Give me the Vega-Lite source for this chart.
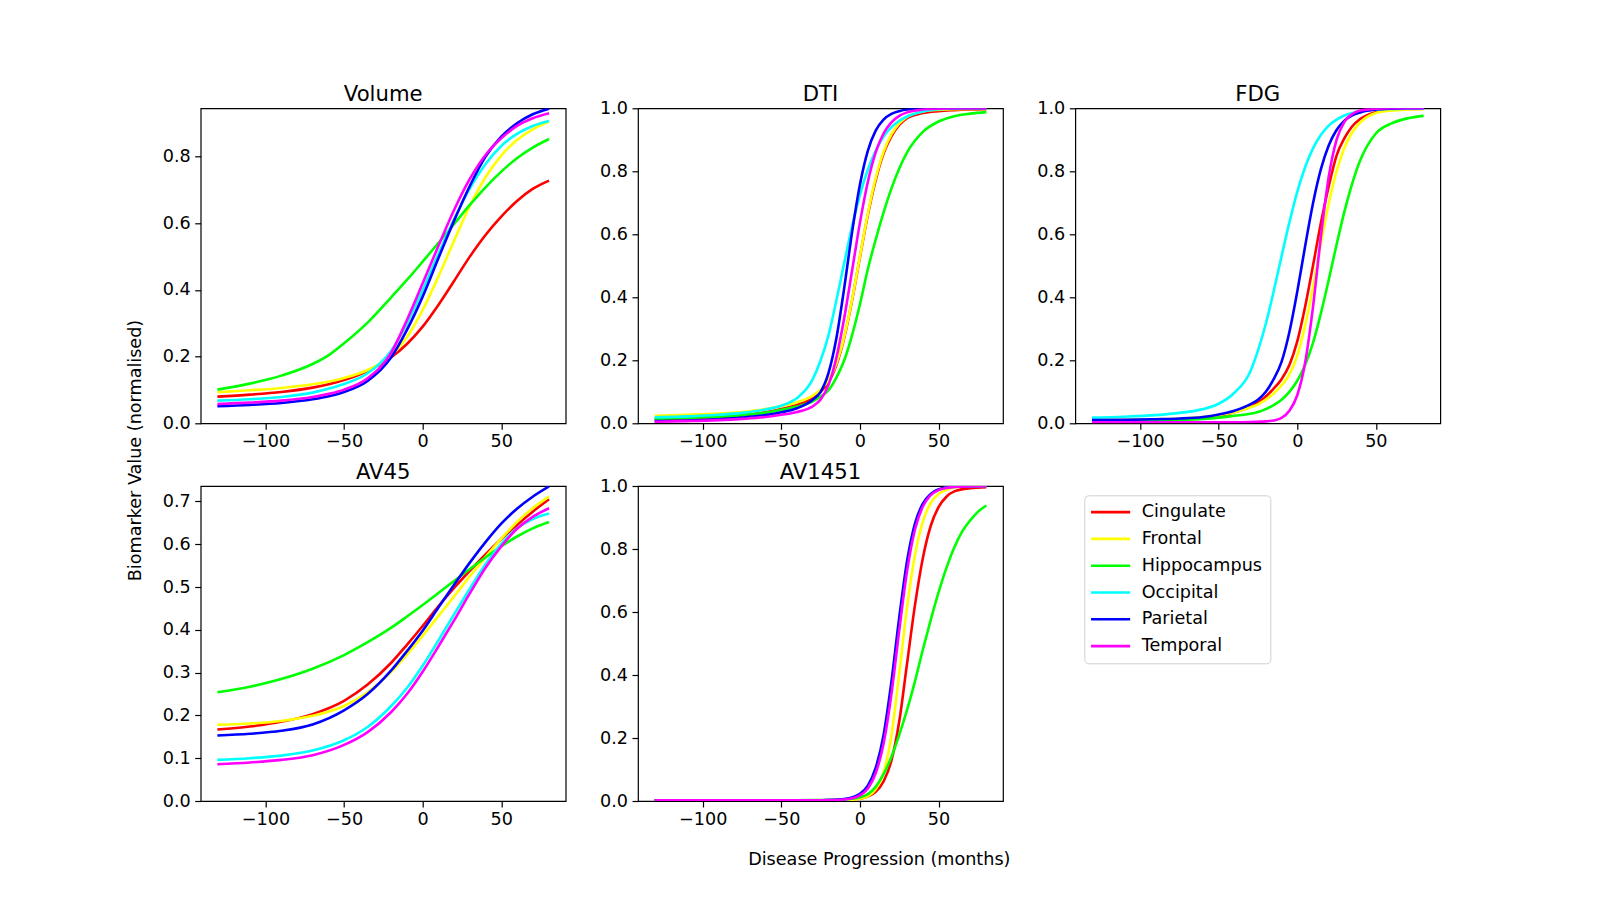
{
"$schema": "https://vega.github.io/schema/vega-lite/v6.json",
"autosize": {"type": "none"},
"padding": {"left": 200.7, "top": 108.3, "right": 1399.3, "bottom": 791.7},
"background": "white",
"datasets": {
"Volume": [
{"region":"Cingulate","x":-130.6,"y":0.080},{"region":"Cingulate","x":-110,"y":0.086},{"region":"Cingulate","x":-90,"y":0.094},{"region":"Cingulate","x":-70,"y":0.107},{"region":"Cingulate","x":-59,"y":0.118},{"region":"Cingulate","x":-50,"y":0.130},{"region":"Cingulate","x":-35,"y":0.157},{"region":"Cingulate","x":-20,"y":0.198},{"region":"Cingulate","x":-10,"y":0.238},{"region":"Cingulate","x":0,"y":0.290},{"region":"Cingulate","x":10,"y":0.355},{"region":"Cingulate","x":20,"y":0.427},{"region":"Cingulate","x":30,"y":0.500},{"region":"Cingulate","x":40,"y":0.565},{"region":"Cingulate","x":50,"y":0.620},{"region":"Cingulate","x":60,"y":0.667},{"region":"Cingulate","x":70,"y":0.703},{"region":"Cingulate","x":80.4,"y":0.728},
{"region":"Frontal","x":-130.6,"y":0.093},{"region":"Frontal","x":-110,"y":0.099},{"region":"Frontal","x":-90,"y":0.106},{"region":"Frontal","x":-70,"y":0.117},{"region":"Frontal","x":-59,"y":0.126},{"region":"Frontal","x":-50,"y":0.136},{"region":"Frontal","x":-35,"y":0.160},{"region":"Frontal","x":-20,"y":0.203},{"region":"Frontal","x":-10,"y":0.258},{"region":"Frontal","x":0,"y":0.340},{"region":"Frontal","x":10,"y":0.440},{"region":"Frontal","x":20,"y":0.548},{"region":"Frontal","x":30,"y":0.652},{"region":"Frontal","x":40,"y":0.738},{"region":"Frontal","x":50,"y":0.803},{"region":"Frontal","x":60,"y":0.850},{"region":"Frontal","x":70,"y":0.882},{"region":"Frontal","x":80.4,"y":0.905},
{"region":"Hippocampus","x":-130.6,"y":0.101},{"region":"Hippocampus","x":-110,"y":0.119},{"region":"Hippocampus","x":-90,"y":0.143},{"region":"Hippocampus","x":-70,"y":0.178},{"region":"Hippocampus","x":-59,"y":0.207},{"region":"Hippocampus","x":-50,"y":0.240},{"region":"Hippocampus","x":-35,"y":0.302},{"region":"Hippocampus","x":-20,"y":0.378},{"region":"Hippocampus","x":-10,"y":0.430},{"region":"Hippocampus","x":0,"y":0.485},{"region":"Hippocampus","x":10,"y":0.541},{"region":"Hippocampus","x":20,"y":0.598},{"region":"Hippocampus","x":30,"y":0.655},{"region":"Hippocampus","x":40,"y":0.708},{"region":"Hippocampus","x":50,"y":0.755},{"region":"Hippocampus","x":60,"y":0.795},{"region":"Hippocampus","x":70,"y":0.827},{"region":"Hippocampus","x":80.4,"y":0.853},
{"region":"Occipital","x":-130.6,"y":0.068},{"region":"Occipital","x":-110,"y":0.072},{"region":"Occipital","x":-90,"y":0.079},{"region":"Occipital","x":-70,"y":0.092},{"region":"Occipital","x":-59,"y":0.105},{"region":"Occipital","x":-50,"y":0.118},{"region":"Occipital","x":-35,"y":0.150},{"region":"Occipital","x":-20,"y":0.218},{"region":"Occipital","x":-10,"y":0.300},{"region":"Occipital","x":0,"y":0.400},{"region":"Occipital","x":10,"y":0.508},{"region":"Occipital","x":20,"y":0.612},{"region":"Occipital","x":30,"y":0.705},{"region":"Occipital","x":40,"y":0.778},{"region":"Occipital","x":50,"y":0.832},{"region":"Occipital","x":60,"y":0.868},{"region":"Occipital","x":70,"y":0.892},{"region":"Occipital","x":80.4,"y":0.907},
{"region":"Parietal","x":-130.6,"y":0.051},{"region":"Parietal","x":-110,"y":0.055},{"region":"Parietal","x":-90,"y":0.061},{"region":"Parietal","x":-70,"y":0.072},{"region":"Parietal","x":-59,"y":0.082},{"region":"Parietal","x":-50,"y":0.094},{"region":"Parietal","x":-35,"y":0.127},{"region":"Parietal","x":-20,"y":0.198},{"region":"Parietal","x":-10,"y":0.280},{"region":"Parietal","x":0,"y":0.380},{"region":"Parietal","x":10,"y":0.495},{"region":"Parietal","x":20,"y":0.608},{"region":"Parietal","x":30,"y":0.712},{"region":"Parietal","x":40,"y":0.800},{"region":"Parietal","x":50,"y":0.860},{"region":"Parietal","x":60,"y":0.900},{"region":"Parietal","x":70,"y":0.927},{"region":"Parietal","x":80.4,"y":0.944},
{"region":"Temporal","x":-130.6,"y":0.058},{"region":"Temporal","x":-110,"y":0.062},{"region":"Temporal","x":-90,"y":0.068},{"region":"Temporal","x":-70,"y":0.079},{"region":"Temporal","x":-59,"y":0.089},{"region":"Temporal","x":-50,"y":0.101},{"region":"Temporal","x":-35,"y":0.135},{"region":"Temporal","x":-20,"y":0.212},{"region":"Temporal","x":-10,"y":0.310},{"region":"Temporal","x":0,"y":0.420},{"region":"Temporal","x":10,"y":0.532},{"region":"Temporal","x":20,"y":0.640},{"region":"Temporal","x":30,"y":0.733},{"region":"Temporal","x":40,"y":0.805},{"region":"Temporal","x":50,"y":0.855},{"region":"Temporal","x":60,"y":0.892},{"region":"Temporal","x":70,"y":0.915},{"region":"Temporal","x":80.4,"y":0.930}
],
"DTI": [
{"region":"Cingulate","x":-130.6,"y":0.013},{"region":"Cingulate","x":-110,"y":0.016},{"region":"Cingulate","x":-90,"y":0.020},{"region":"Cingulate","x":-75,"y":0.025},{"region":"Cingulate","x":-60,"y":0.035},{"region":"Cingulate","x":-50,"y":0.045},{"region":"Cingulate","x":-40,"y":0.058},{"region":"Cingulate","x":-30,"y":0.080},{"region":"Cingulate","x":-25,"y":0.100},{"region":"Cingulate","x":-20,"y":0.130},{"region":"Cingulate","x":-15,"y":0.185},{"region":"Cingulate","x":-10,"y":0.272},{"region":"Cingulate","x":-5,"y":0.391},{"region":"Cingulate","x":0,"y":0.528},{"region":"Cingulate","x":5,"y":0.661},{"region":"Cingulate","x":10,"y":0.772},{"region":"Cingulate","x":15,"y":0.856},{"region":"Cingulate","x":20,"y":0.911},{"region":"Cingulate","x":25,"y":0.947},{"region":"Cingulate","x":30,"y":0.969},{"region":"Cingulate","x":40,"y":0.985},{"region":"Cingulate","x":50,"y":0.991},{"region":"Cingulate","x":60,"y":0.994},{"region":"Cingulate","x":70,"y":0.996},{"region":"Cingulate","x":80.4,"y":0.997},
{"region":"Frontal","x":-130.6,"y":0.024},{"region":"Frontal","x":-110,"y":0.027},{"region":"Frontal","x":-90,"y":0.031},{"region":"Frontal","x":-75,"y":0.036},{"region":"Frontal","x":-60,"y":0.045},{"region":"Frontal","x":-50,"y":0.055},{"region":"Frontal","x":-40,"y":0.067},{"region":"Frontal","x":-30,"y":0.088},{"region":"Frontal","x":-25,"y":0.107},{"region":"Frontal","x":-20,"y":0.137},{"region":"Frontal","x":-15,"y":0.190},{"region":"Frontal","x":-10,"y":0.275},{"region":"Frontal","x":-5,"y":0.393},{"region":"Frontal","x":0,"y":0.530},{"region":"Frontal","x":5,"y":0.665},{"region":"Frontal","x":10,"y":0.778},{"region":"Frontal","x":15,"y":0.862},{"region":"Frontal","x":20,"y":0.917},{"region":"Frontal","x":25,"y":0.952},{"region":"Frontal","x":30,"y":0.973},{"region":"Frontal","x":40,"y":0.990},{"region":"Frontal","x":50,"y":0.995},{"region":"Frontal","x":60,"y":0.997},{"region":"Frontal","x":70,"y":0.998},{"region":"Frontal","x":80.4,"y":0.998},
{"region":"Hippocampus","x":-130.6,"y":0.014},{"region":"Hippocampus","x":-110,"y":0.017},{"region":"Hippocampus","x":-90,"y":0.021},{"region":"Hippocampus","x":-75,"y":0.026},{"region":"Hippocampus","x":-60,"y":0.034},{"region":"Hippocampus","x":-50,"y":0.043},{"region":"Hippocampus","x":-40,"y":0.053},{"region":"Hippocampus","x":-30,"y":0.070},{"region":"Hippocampus","x":-25,"y":0.085},{"region":"Hippocampus","x":-20,"y":0.105},{"region":"Hippocampus","x":-15,"y":0.145},{"region":"Hippocampus","x":-10,"y":0.200},{"region":"Hippocampus","x":-5,"y":0.280},{"region":"Hippocampus","x":0,"y":0.378},{"region":"Hippocampus","x":5,"y":0.489},{"region":"Hippocampus","x":10,"y":0.583},{"region":"Hippocampus","x":15,"y":0.669},{"region":"Hippocampus","x":20,"y":0.745},{"region":"Hippocampus","x":25,"y":0.809},{"region":"Hippocampus","x":30,"y":0.860},{"region":"Hippocampus","x":40,"y":0.925},{"region":"Hippocampus","x":50,"y":0.958},{"region":"Hippocampus","x":60,"y":0.975},{"region":"Hippocampus","x":70,"y":0.983},{"region":"Hippocampus","x":80.4,"y":0.988},
{"region":"Occipital","x":-130.6,"y":0.019},{"region":"Occipital","x":-110,"y":0.022},{"region":"Occipital","x":-90,"y":0.027},{"region":"Occipital","x":-75,"y":0.033},{"region":"Occipital","x":-60,"y":0.044},{"region":"Occipital","x":-50,"y":0.056},{"region":"Occipital","x":-40,"y":0.080},{"region":"Occipital","x":-30,"y":0.140},{"region":"Occipital","x":-25,"y":0.200},{"region":"Occipital","x":-20,"y":0.280},{"region":"Occipital","x":-15,"y":0.390},{"region":"Occipital","x":-10,"y":0.510},{"region":"Occipital","x":-5,"y":0.625},{"region":"Occipital","x":0,"y":0.725},{"region":"Occipital","x":5,"y":0.805},{"region":"Occipital","x":10,"y":0.865},{"region":"Occipital","x":15,"y":0.910},{"region":"Occipital","x":20,"y":0.940},{"region":"Occipital","x":25,"y":0.960},{"region":"Occipital","x":30,"y":0.974},{"region":"Occipital","x":40,"y":0.990},{"region":"Occipital","x":50,"y":0.997},{"region":"Occipital","x":60,"y":0.999},{"region":"Occipital","x":70,"y":1.0},{"region":"Occipital","x":80.4,"y":1.0},
{"region":"Parietal","x":-130.6,"y":0.007},{"region":"Parietal","x":-110,"y":0.009},{"region":"Parietal","x":-90,"y":0.013},{"region":"Parietal","x":-75,"y":0.018},{"region":"Parietal","x":-60,"y":0.026},{"region":"Parietal","x":-50,"y":0.035},{"region":"Parietal","x":-40,"y":0.048},{"region":"Parietal","x":-30,"y":0.075},{"region":"Parietal","x":-25,"y":0.100},{"region":"Parietal","x":-20,"y":0.160},{"region":"Parietal","x":-15,"y":0.270},{"region":"Parietal","x":-10,"y":0.430},{"region":"Parietal","x":-5,"y":0.607},{"region":"Parietal","x":0,"y":0.758},{"region":"Parietal","x":5,"y":0.865},{"region":"Parietal","x":10,"y":0.929},{"region":"Parietal","x":15,"y":0.964},{"region":"Parietal","x":20,"y":0.982},{"region":"Parietal","x":25,"y":0.991},{"region":"Parietal","x":30,"y":0.996},{"region":"Parietal","x":40,"y":0.999},{"region":"Parietal","x":50,"y":1.0},{"region":"Parietal","x":60,"y":1.0},{"region":"Parietal","x":70,"y":1.0},{"region":"Parietal","x":80.4,"y":1.0},
{"region":"Temporal","x":-130.6,"y":0.005},{"region":"Temporal","x":-110,"y":0.007},{"region":"Temporal","x":-90,"y":0.010},{"region":"Temporal","x":-75,"y":0.014},{"region":"Temporal","x":-60,"y":0.020},{"region":"Temporal","x":-50,"y":0.027},{"region":"Temporal","x":-40,"y":0.036},{"region":"Temporal","x":-30,"y":0.054},{"region":"Temporal","x":-25,"y":0.076},{"region":"Temporal","x":-20,"y":0.122},{"region":"Temporal","x":-15,"y":0.208},{"region":"Temporal","x":-10,"y":0.334},{"region":"Temporal","x":-5,"y":0.485},{"region":"Temporal","x":0,"y":0.637},{"region":"Temporal","x":5,"y":0.766},{"region":"Temporal","x":10,"y":0.860},{"region":"Temporal","x":15,"y":0.920},{"region":"Temporal","x":20,"y":0.955},{"region":"Temporal","x":25,"y":0.976},{"region":"Temporal","x":30,"y":0.987},{"region":"Temporal","x":40,"y":0.996},{"region":"Temporal","x":50,"y":0.999},{"region":"Temporal","x":60,"y":1.0},{"region":"Temporal","x":70,"y":1.0},{"region":"Temporal","x":80.4,"y":1.0}
],
"FDG": [
{"region":"Cingulate","x":-130.6,"y":0.008},{"region":"Cingulate","x":-110,"y":0.009},{"region":"Cingulate","x":-90,"y":0.011},{"region":"Cingulate","x":-75,"y":0.013},{"region":"Cingulate","x":-60,"y":0.018},{"region":"Cingulate","x":-50,"y":0.024},{"region":"Cingulate","x":-40,"y":0.035},{"region":"Cingulate","x":-30,"y":0.052},{"region":"Cingulate","x":-25,"y":0.066},{"region":"Cingulate","x":-20,"y":0.085},{"region":"Cingulate","x":-15,"y":0.110},{"region":"Cingulate","x":-10,"y":0.140},{"region":"Cingulate","x":-5,"y":0.185},{"region":"Cingulate","x":0,"y":0.260},{"region":"Cingulate","x":5,"y":0.370},{"region":"Cingulate","x":10,"y":0.500},{"region":"Cingulate","x":15,"y":0.635},{"region":"Cingulate","x":20,"y":0.752},{"region":"Cingulate","x":25,"y":0.850},{"region":"Cingulate","x":30,"y":0.905},{"region":"Cingulate","x":35,"y":0.943},{"region":"Cingulate","x":40,"y":0.966},{"region":"Cingulate","x":50,"y":0.988},{"region":"Cingulate","x":60,"y":0.996},{"region":"Cingulate","x":70,"y":0.998},{"region":"Cingulate","x":80.4,"y":0.999},
{"region":"Frontal","x":-130.6,"y":0.010},{"region":"Frontal","x":-110,"y":0.011},{"region":"Frontal","x":-90,"y":0.013},{"region":"Frontal","x":-75,"y":0.015},{"region":"Frontal","x":-60,"y":0.020},{"region":"Frontal","x":-50,"y":0.026},{"region":"Frontal","x":-40,"y":0.035},{"region":"Frontal","x":-30,"y":0.050},{"region":"Frontal","x":-25,"y":0.060},{"region":"Frontal","x":-20,"y":0.075},{"region":"Frontal","x":-15,"y":0.095},{"region":"Frontal","x":-10,"y":0.120},{"region":"Frontal","x":-5,"y":0.155},{"region":"Frontal","x":0,"y":0.215},{"region":"Frontal","x":5,"y":0.310},{"region":"Frontal","x":10,"y":0.432},{"region":"Frontal","x":15,"y":0.569},{"region":"Frontal","x":20,"y":0.697},{"region":"Frontal","x":25,"y":0.800},{"region":"Frontal","x":30,"y":0.875},{"region":"Frontal","x":35,"y":0.924},{"region":"Frontal","x":40,"y":0.955},{"region":"Frontal","x":50,"y":0.985},{"region":"Frontal","x":60,"y":0.993},{"region":"Frontal","x":70,"y":0.996},{"region":"Frontal","x":80.4,"y":0.997},
{"region":"Hippocampus","x":-130.6,"y":0.007},{"region":"Hippocampus","x":-110,"y":0.008},{"region":"Hippocampus","x":-90,"y":0.009},{"region":"Hippocampus","x":-75,"y":0.011},{"region":"Hippocampus","x":-60,"y":0.014},{"region":"Hippocampus","x":-50,"y":0.018},{"region":"Hippocampus","x":-40,"y":0.024},{"region":"Hippocampus","x":-30,"y":0.030},{"region":"Hippocampus","x":-25,"y":0.036},{"region":"Hippocampus","x":-20,"y":0.045},{"region":"Hippocampus","x":-15,"y":0.058},{"region":"Hippocampus","x":-10,"y":0.075},{"region":"Hippocampus","x":-5,"y":0.100},{"region":"Hippocampus","x":0,"y":0.135},{"region":"Hippocampus","x":5,"y":0.185},{"region":"Hippocampus","x":10,"y":0.255},{"region":"Hippocampus","x":15,"y":0.348},{"region":"Hippocampus","x":20,"y":0.455},{"region":"Hippocampus","x":25,"y":0.567},{"region":"Hippocampus","x":30,"y":0.672},{"region":"Hippocampus","x":35,"y":0.762},{"region":"Hippocampus","x":40,"y":0.834},{"region":"Hippocampus","x":50,"y":0.920},{"region":"Hippocampus","x":60,"y":0.952},{"region":"Hippocampus","x":70,"y":0.968},{"region":"Hippocampus","x":80.4,"y":0.976},
{"region":"Occipital","x":-130.6,"y":0.018},{"region":"Occipital","x":-110,"y":0.021},{"region":"Occipital","x":-90,"y":0.026},{"region":"Occipital","x":-75,"y":0.033},{"region":"Occipital","x":-60,"y":0.045},{"region":"Occipital","x":-50,"y":0.062},{"region":"Occipital","x":-40,"y":0.097},{"region":"Occipital","x":-30,"y":0.163},{"region":"Occipital","x":-25,"y":0.231},{"region":"Occipital","x":-20,"y":0.316},{"region":"Occipital","x":-15,"y":0.419},{"region":"Occipital","x":-10,"y":0.530},{"region":"Occipital","x":-5,"y":0.638},{"region":"Occipital","x":0,"y":0.735},{"region":"Occipital","x":5,"y":0.813},{"region":"Occipital","x":10,"y":0.873},{"region":"Occipital","x":15,"y":0.915},{"region":"Occipital","x":20,"y":0.945},{"region":"Occipital","x":25,"y":0.964},{"region":"Occipital","x":30,"y":0.977},{"region":"Occipital","x":35,"y":0.985},{"region":"Occipital","x":40,"y":0.990},{"region":"Occipital","x":50,"y":0.996},{"region":"Occipital","x":60,"y":0.998},{"region":"Occipital","x":70,"y":0.999},{"region":"Occipital","x":80.4,"y":0.999},
{"region":"Parietal","x":-130.6,"y":0.010},{"region":"Parietal","x":-110,"y":0.011},{"region":"Parietal","x":-90,"y":0.013},{"region":"Parietal","x":-75,"y":0.015},{"region":"Parietal","x":-60,"y":0.020},{"region":"Parietal","x":-50,"y":0.028},{"region":"Parietal","x":-40,"y":0.040},{"region":"Parietal","x":-30,"y":0.060},{"region":"Parietal","x":-25,"y":0.075},{"region":"Parietal","x":-20,"y":0.100},{"region":"Parietal","x":-15,"y":0.140},{"region":"Parietal","x":-10,"y":0.195},{"region":"Parietal","x":-5,"y":0.290},{"region":"Parietal","x":0,"y":0.418},{"region":"Parietal","x":5,"y":0.562},{"region":"Parietal","x":10,"y":0.698},{"region":"Parietal","x":15,"y":0.806},{"region":"Parietal","x":20,"y":0.882},{"region":"Parietal","x":25,"y":0.931},{"region":"Parietal","x":30,"y":0.961},{"region":"Parietal","x":35,"y":0.978},{"region":"Parietal","x":40,"y":0.987},{"region":"Parietal","x":50,"y":0.996},{"region":"Parietal","x":60,"y":0.999},{"region":"Parietal","x":70,"y":1.0},{"region":"Parietal","x":80.4,"y":1.0},
{"region":"Temporal","x":-130.6,"y":0.003},{"region":"Temporal","x":-110,"y":0.003},{"region":"Temporal","x":-90,"y":0.003},{"region":"Temporal","x":-75,"y":0.003},{"region":"Temporal","x":-60,"y":0.003},{"region":"Temporal","x":-50,"y":0.003},{"region":"Temporal","x":-40,"y":0.003},{"region":"Temporal","x":-30,"y":0.004},{"region":"Temporal","x":-25,"y":0.005},{"region":"Temporal","x":-20,"y":0.006},{"region":"Temporal","x":-15,"y":0.009},{"region":"Temporal","x":-10,"y":0.017},{"region":"Temporal","x":-5,"y":0.040},{"region":"Temporal","x":0,"y":0.089},{"region":"Temporal","x":5,"y":0.192},{"region":"Temporal","x":10,"y":0.369},{"region":"Temporal","x":15,"y":0.591},{"region":"Temporal","x":20,"y":0.782},{"region":"Temporal","x":25,"y":0.900},{"region":"Temporal","x":30,"y":0.957},{"region":"Temporal","x":35,"y":0.982},{"region":"Temporal","x":40,"y":0.993},{"region":"Temporal","x":50,"y":0.999},{"region":"Temporal","x":60,"y":1.0},{"region":"Temporal","x":70,"y":1.0},{"region":"Temporal","x":80.4,"y":1.0}
],
"AV45": [
{"region":"Cingulate","x":-130.6,"y":0.167},{"region":"Cingulate","x":-110,"y":0.174},{"region":"Cingulate","x":-90,"y":0.185},{"region":"Cingulate","x":-70,"y":0.203},{"region":"Cingulate","x":-50,"y":0.234},{"region":"Cingulate","x":-35,"y":0.272},{"region":"Cingulate","x":-20,"y":0.323},{"region":"Cingulate","x":-10,"y":0.365},{"region":"Cingulate","x":0,"y":0.409},{"region":"Cingulate","x":10,"y":0.455},{"region":"Cingulate","x":20,"y":0.498},{"region":"Cingulate","x":30,"y":0.538},{"region":"Cingulate","x":40,"y":0.576},{"region":"Cingulate","x":50,"y":0.612},{"region":"Cingulate","x":60,"y":0.645},{"region":"Cingulate","x":70,"y":0.676},{"region":"Cingulate","x":80.4,"y":0.705},
{"region":"Frontal","x":-130.6,"y":0.178},{"region":"Frontal","x":-110,"y":0.181},{"region":"Frontal","x":-90,"y":0.187},{"region":"Frontal","x":-70,"y":0.199},{"region":"Frontal","x":-50,"y":0.222},{"region":"Frontal","x":-35,"y":0.254},{"region":"Frontal","x":-20,"y":0.302},{"region":"Frontal","x":-10,"y":0.342},{"region":"Frontal","x":0,"y":0.386},{"region":"Frontal","x":10,"y":0.432},{"region":"Frontal","x":20,"y":0.478},{"region":"Frontal","x":30,"y":0.525},{"region":"Frontal","x":40,"y":0.570},{"region":"Frontal","x":50,"y":0.613},{"region":"Frontal","x":60,"y":0.652},{"region":"Frontal","x":70,"y":0.684},{"region":"Frontal","x":80.4,"y":0.711},
{"region":"Hippocampus","x":-130.6,"y":0.254},{"region":"Hippocampus","x":-110,"y":0.267},{"region":"Hippocampus","x":-90,"y":0.285},{"region":"Hippocampus","x":-70,"y":0.309},{"region":"Hippocampus","x":-50,"y":0.341},{"region":"Hippocampus","x":-35,"y":0.371},{"region":"Hippocampus","x":-20,"y":0.405},{"region":"Hippocampus","x":-10,"y":0.431},{"region":"Hippocampus","x":0,"y":0.458},{"region":"Hippocampus","x":10,"y":0.486},{"region":"Hippocampus","x":20,"y":0.514},{"region":"Hippocampus","x":30,"y":0.542},{"region":"Hippocampus","x":40,"y":0.569},{"region":"Hippocampus","x":50,"y":0.595},{"region":"Hippocampus","x":60,"y":0.618},{"region":"Hippocampus","x":70,"y":0.637},{"region":"Hippocampus","x":80.4,"y":0.652},
{"region":"Occipital","x":-130.6,"y":0.096},{"region":"Occipital","x":-110,"y":0.100},{"region":"Occipital","x":-90,"y":0.106},{"region":"Occipital","x":-70,"y":0.118},{"region":"Occipital","x":-50,"y":0.142},{"region":"Occipital","x":-35,"y":0.173},{"region":"Occipital","x":-20,"y":0.222},{"region":"Occipital","x":-10,"y":0.264},{"region":"Occipital","x":0,"y":0.316},{"region":"Occipital","x":10,"y":0.375},{"region":"Occipital","x":20,"y":0.436},{"region":"Occipital","x":30,"y":0.496},{"region":"Occipital","x":40,"y":0.553},{"region":"Occipital","x":50,"y":0.601},{"region":"Occipital","x":60,"y":0.637},{"region":"Occipital","x":70,"y":0.659},{"region":"Occipital","x":80.4,"y":0.672},
{"region":"Parietal","x":-130.6,"y":0.153},{"region":"Parietal","x":-110,"y":0.157},{"region":"Parietal","x":-90,"y":0.164},{"region":"Parietal","x":-70,"y":0.179},{"region":"Parietal","x":-50,"y":0.212},{"region":"Parietal","x":-35,"y":0.250},{"region":"Parietal","x":-20,"y":0.305},{"region":"Parietal","x":-10,"y":0.350},{"region":"Parietal","x":0,"y":0.398},{"region":"Parietal","x":10,"y":0.452},{"region":"Parietal","x":20,"y":0.505},{"region":"Parietal","x":30,"y":0.557},{"region":"Parietal","x":40,"y":0.605},{"region":"Parietal","x":50,"y":0.648},{"region":"Parietal","x":60,"y":0.683},{"region":"Parietal","x":70,"y":0.711},{"region":"Parietal","x":80.4,"y":0.735},
{"region":"Temporal","x":-130.6,"y":0.086},{"region":"Temporal","x":-110,"y":0.090},{"region":"Temporal","x":-90,"y":0.096},{"region":"Temporal","x":-70,"y":0.107},{"region":"Temporal","x":-50,"y":0.131},{"region":"Temporal","x":-35,"y":0.161},{"region":"Temporal","x":-20,"y":0.208},{"region":"Temporal","x":-10,"y":0.250},{"region":"Temporal","x":0,"y":0.302},{"region":"Temporal","x":10,"y":0.361},{"region":"Temporal","x":20,"y":0.422},{"region":"Temporal","x":30,"y":0.485},{"region":"Temporal","x":40,"y":0.545},{"region":"Temporal","x":50,"y":0.595},{"region":"Temporal","x":60,"y":0.636},{"region":"Temporal","x":70,"y":0.664},{"region":"Temporal","x":80.4,"y":0.684}
],
"AV1451": [
{"region":"Cingulate","x":-130.6,"y":0.002},{"region":"Cingulate","x":-100,"y":0.002},{"region":"Cingulate","x":-75,"y":0.002},{"region":"Cingulate","x":-50,"y":0.002},{"region":"Cingulate","x":-30,"y":0.002},{"region":"Cingulate","x":-20,"y":0.003},{"region":"Cingulate","x":-10,"y":0.004},{"region":"Cingulate","x":-5,"y":0.005},{"region":"Cingulate","x":0,"y":0.007},{"region":"Cingulate","x":5,"y":0.014},{"region":"Cingulate","x":10,"y":0.029},{"region":"Cingulate","x":15,"y":0.062},{"region":"Cingulate","x":20,"y":0.128},{"region":"Cingulate","x":25,"y":0.253},{"region":"Cingulate","x":30,"y":0.438},{"region":"Cingulate","x":35,"y":0.622},{"region":"Cingulate","x":40,"y":0.771},{"region":"Cingulate","x":45,"y":0.873},{"region":"Cingulate","x":50,"y":0.933},{"region":"Cingulate","x":55,"y":0.966},{"region":"Cingulate","x":60,"y":0.983},{"region":"Cingulate","x":70,"y":0.993},{"region":"Cingulate","x":80.4,"y":0.996},
{"region":"Frontal","x":-130.6,"y":0.002},{"region":"Frontal","x":-100,"y":0.002},{"region":"Frontal","x":-75,"y":0.002},{"region":"Frontal","x":-50,"y":0.002},{"region":"Frontal","x":-30,"y":0.002},{"region":"Frontal","x":-20,"y":0.002},{"region":"Frontal","x":-10,"y":0.003},{"region":"Frontal","x":-5,"y":0.004},{"region":"Frontal","x":0,"y":0.007},{"region":"Frontal","x":5,"y":0.015},{"region":"Frontal","x":10,"y":0.037},{"region":"Frontal","x":15,"y":0.090},{"region":"Frontal","x":20,"y":0.206},{"region":"Frontal","x":25,"y":0.405},{"region":"Frontal","x":30,"y":0.617},{"region":"Frontal","x":35,"y":0.781},{"region":"Frontal","x":40,"y":0.887},{"region":"Frontal","x":45,"y":0.946},{"region":"Frontal","x":50,"y":0.975},{"region":"Frontal","x":55,"y":0.988},{"region":"Frontal","x":60,"y":0.995},{"region":"Frontal","x":70,"y":0.999},{"region":"Frontal","x":80.4,"y":1.0},
{"region":"Hippocampus","x":-130.6,"y":0.002},{"region":"Hippocampus","x":-100,"y":0.002},{"region":"Hippocampus","x":-75,"y":0.002},{"region":"Hippocampus","x":-50,"y":0.002},{"region":"Hippocampus","x":-30,"y":0.003},{"region":"Hippocampus","x":-20,"y":0.003},{"region":"Hippocampus","x":-10,"y":0.004},{"region":"Hippocampus","x":-5,"y":0.007},{"region":"Hippocampus","x":0,"y":0.012},{"region":"Hippocampus","x":5,"y":0.022},{"region":"Hippocampus","x":10,"y":0.045},{"region":"Hippocampus","x":15,"y":0.085},{"region":"Hippocampus","x":20,"y":0.140},{"region":"Hippocampus","x":25,"y":0.210},{"region":"Hippocampus","x":30,"y":0.290},{"region":"Hippocampus","x":35,"y":0.380},{"region":"Hippocampus","x":40,"y":0.480},{"region":"Hippocampus","x":45,"y":0.574},{"region":"Hippocampus","x":50,"y":0.662},{"region":"Hippocampus","x":55,"y":0.740},{"region":"Hippocampus","x":60,"y":0.805},{"region":"Hippocampus","x":65,"y":0.855},{"region":"Hippocampus","x":70,"y":0.890},{"region":"Hippocampus","x":75,"y":0.918},{"region":"Hippocampus","x":80.4,"y":0.938},
{"region":"Occipital","x":-130.6,"y":0.002},{"region":"Occipital","x":-100,"y":0.002},{"region":"Occipital","x":-75,"y":0.002},{"region":"Occipital","x":-50,"y":0.002},{"region":"Occipital","x":-30,"y":0.002},{"region":"Occipital","x":-20,"y":0.003},{"region":"Occipital","x":-10,"y":0.005},{"region":"Occipital","x":-5,"y":0.010},{"region":"Occipital","x":0,"y":0.020},{"region":"Occipital","x":5,"y":0.044},{"region":"Occipital","x":10,"y":0.096},{"region":"Occipital","x":15,"y":0.195},{"region":"Occipital","x":20,"y":0.358},{"region":"Occipital","x":25,"y":0.563},{"region":"Occipital","x":30,"y":0.748},{"region":"Occipital","x":35,"y":0.872},{"region":"Occipital","x":40,"y":0.940},{"region":"Occipital","x":45,"y":0.973},{"region":"Occipital","x":50,"y":0.988},{"region":"Occipital","x":55,"y":0.995},{"region":"Occipital","x":60,"y":0.998},{"region":"Occipital","x":70,"y":0.999},{"region":"Occipital","x":80.4,"y":1.0},
{"region":"Parietal","x":-130.6,"y":0.002},{"region":"Parietal","x":-100,"y":0.002},{"region":"Parietal","x":-75,"y":0.002},{"region":"Parietal","x":-50,"y":0.002},{"region":"Parietal","x":-30,"y":0.002},{"region":"Parietal","x":-20,"y":0.003},{"region":"Parietal","x":-10,"y":0.006},{"region":"Parietal","x":-5,"y":0.011},{"region":"Parietal","x":0,"y":0.023},{"region":"Parietal","x":5,"y":0.049},{"region":"Parietal","x":10,"y":0.105},{"region":"Parietal","x":15,"y":0.209},{"region":"Parietal","x":20,"y":0.378},{"region":"Parietal","x":25,"y":0.583},{"region":"Parietal","x":30,"y":0.763},{"region":"Parietal","x":35,"y":0.881},{"region":"Parietal","x":40,"y":0.944},{"region":"Parietal","x":45,"y":0.975},{"region":"Parietal","x":50,"y":0.989},{"region":"Parietal","x":55,"y":0.995},{"region":"Parietal","x":60,"y":0.998},{"region":"Parietal","x":70,"y":0.999},{"region":"Parietal","x":80.4,"y":1.0},
{"region":"Temporal","x":-130.6,"y":0.002},{"region":"Temporal","x":-100,"y":0.002},{"region":"Temporal","x":-75,"y":0.002},{"region":"Temporal","x":-50,"y":0.002},{"region":"Temporal","x":-30,"y":0.002},{"region":"Temporal","x":-20,"y":0.003},{"region":"Temporal","x":-10,"y":0.005},{"region":"Temporal","x":-5,"y":0.009},{"region":"Temporal","x":0,"y":0.018},{"region":"Temporal","x":5,"y":0.040},{"region":"Temporal","x":10,"y":0.088},{"region":"Temporal","x":15,"y":0.182},{"region":"Temporal","x":20,"y":0.339},{"region":"Temporal","x":25,"y":0.542},{"region":"Temporal","x":30,"y":0.731},{"region":"Temporal","x":35,"y":0.862},{"region":"Temporal","x":40,"y":0.935},{"region":"Temporal","x":45,"y":0.971},{"region":"Temporal","x":50,"y":0.987},{"region":"Temporal","x":55,"y":0.994},{"region":"Temporal","x":60,"y":0.997},{"region":"Temporal","x":70,"y":0.999},{"region":"Temporal","x":80.4,"y":1.0}
]
},
"columns": 3,
"spacing": {"row": 62.7, "column": 72.3},
"bounds": "flush",
"resolve": {"scale": {"x": "independent", "y": "independent", "color": "shared"}},
"concat": [
{
"title": {"text": "Volume", "offset": 2.9},
"width": 365, "height": 315,
"data": {"name": "Volume"},
"mark": {"type": "line", "interpolate": "monotone", "strokeWidth": 2.6, "clip": true},
"encoding": {
"x": {"field": "x", "type": "quantitative", "scale": {"domain": [-141.2, 91], "nice": false, "zero": false}, "axis": {"values": [-100, -50, 0, 50], "format": "d", "title": null}},
"y": {"field": "y", "type": "quantitative", "scale": {"domain": [0, 0.945], "nice": false, "zero": false}, "axis": {"values": [0, 0.2, 0.4, 0.6, 0.8], "format": ".1f", "title": "Biomarker Value (normalised)", "titleX": -60.7, "titleY": 341.7, "titleAngle": 270, "titleAlign": "center", "titleBaseline": "alphabetic"}},
"color": {"field": "region", "type": "nominal", "scale": {"domain": ["Cingulate", "Frontal", "Hippocampus", "Occipital", "Parietal", "Temporal"], "range": ["#ff0000", "#ffff00", "#00ff00", "#00ffff", "#0000ff", "#ff00ff"]}, "legend": {"orient": "none", "legendX": 883.6, "legendY": 387, "title": null}}
}
},
{
"title": {"text": "DTI", "offset": -6.2},
"width": 365, "height": 315,
"data": {"name": "DTI"},
"mark": {"type": "line", "interpolate": "monotone", "strokeWidth": 2.6, "clip": true},
"encoding": {
"x": {"field": "x", "type": "quantitative", "scale": {"domain": [-141.2, 91], "nice": false, "zero": false}, "axis": {"values": [-100, -50, 0, 50], "format": "d", "title": null}},
"y": {"field": "y", "type": "quantitative", "scale": {"domain": [0, 1], "nice": false, "zero": false}, "axis": {"values": [0, 0.2, 0.4, 0.6, 0.8, 1.0], "format": ".1f", "title": null}},
"color": {"field": "region", "type": "nominal", "scale": {"domain": ["Cingulate", "Frontal", "Hippocampus", "Occipital", "Parietal", "Temporal"], "range": ["#ff0000", "#ffff00", "#00ff00", "#00ffff", "#0000ff", "#ff00ff"]}, "legend": {"orient": "none", "legendX": 883.6, "legendY": 387, "title": null}}
}
},
{
"title": {"text": "FDG", "offset": -6.2},
"width": 365, "height": 315,
"data": {"name": "FDG"},
"mark": {"type": "line", "interpolate": "monotone", "strokeWidth": 2.6, "clip": true},
"encoding": {
"x": {"field": "x", "type": "quantitative", "scale": {"domain": [-141.2, 91], "nice": false, "zero": false}, "axis": {"values": [-100, -50, 0, 50], "format": "d", "title": null}},
"y": {"field": "y", "type": "quantitative", "scale": {"domain": [0, 1], "nice": false, "zero": false}, "axis": {"values": [0, 0.2, 0.4, 0.6, 0.8, 1.0], "format": ".1f", "title": null}},
"color": {"field": "region", "type": "nominal", "scale": {"domain": ["Cingulate", "Frontal", "Hippocampus", "Occipital", "Parietal", "Temporal"], "range": ["#ff0000", "#ffff00", "#00ff00", "#00ffff", "#0000ff", "#ff00ff"]}, "legend": {"orient": "none", "legendX": 883.6, "legendY": 387, "title": null}}
}
},
{
"title": {"text": "AV45", "offset": 2.9},
"width": 365, "height": 315,
"data": {"name": "AV45"},
"mark": {"type": "line", "interpolate": "monotone", "strokeWidth": 2.6, "clip": true},
"encoding": {
"x": {"field": "x", "type": "quantitative", "scale": {"domain": [-141.2, 91], "nice": false, "zero": false}, "axis": {"values": [-100, -50, 0, 50], "format": "d", "title": null}},
"y": {"field": "y", "type": "quantitative", "scale": {"domain": [0, 0.736], "nice": false, "zero": false}, "axis": {"values": [0, 0.1, 0.2, 0.3, 0.4, 0.5, 0.6, 0.7], "format": ".1f", "title": null}},
"color": {"field": "region", "type": "nominal", "scale": {"domain": ["Cingulate", "Frontal", "Hippocampus", "Occipital", "Parietal", "Temporal"], "range": ["#ff0000", "#ffff00", "#00ff00", "#00ffff", "#0000ff", "#ff00ff"]}, "legend": {"orient": "none", "legendX": 883.6, "legendY": 387, "title": null}}
}
},
{
"title": {"text": "AV1451", "offset": -6.2},
"width": 365, "height": 315,
"data": {"name": "AV1451"},
"mark": {"type": "line", "interpolate": "monotone", "strokeWidth": 2.6, "clip": true},
"encoding": {
"x": {"field": "x", "type": "quantitative", "scale": {"domain": [-141.2, 91], "nice": false, "zero": false}, "axis": {"values": [-100, -50, 0, 50], "format": "d", "title": "Disease Progression (months)", "titleX": 240.8, "titleY": 63.3, "titleAlign": "center", "titleBaseline": "alphabetic"}},
"y": {"field": "y", "type": "quantitative", "scale": {"domain": [0, 1], "nice": false, "zero": false}, "axis": {"values": [0, 0.2, 0.4, 0.6, 0.8, 1.0], "format": ".1f", "title": null}},
"color": {"field": "region", "type": "nominal", "scale": {"domain": ["Cingulate", "Frontal", "Hippocampus", "Occipital", "Parietal", "Temporal"], "range": ["#ff0000", "#ffff00", "#00ff00", "#00ffff", "#0000ff", "#ff00ff"]}, "legend": {"orient": "none", "legendX": 883.6, "legendY": 387, "title": null}}
}
}
],
"config": {
"font": "DejaVu Sans",
"view": {"stroke": "black", "strokeWidth": 1.2},
"axis": {"domain": false, "grid": false, "ticks": true, "tickColor": "black", "tickWidth": 1.2, "tickSize": 6, "labelFont": "DejaVu Sans", "labelFontSize": 17.6, "labelColor": "black", "labelPadding": 3.5, "labelFlush": false, "labelOverlap": false, "titleFont": "DejaVu Sans", "titleFontSize": 17.6, "titleFontWeight": "normal", "titleColor": "black"},
"axisY": {"labelPadding": 4.5},
"title": {"font": "DejaVu Sans", "fontSize": 21.2, "fontWeight": "normal", "color": "black", "anchor": "middle", "baseline": "alphabetic"},
"legend": {"symbolType": "M-3,0H3", "symbolSize": 170, "symbolStrokeWidth": 2.6, "symbolOffset": 9.5, "labelFont": "DejaVu Sans", "labelFontSize": 17.6, "labelColor": "black", "labelOffset": 22.3, "labelBaseline": "middle", "labelLimit": 0, "rowPadding": 7.8, "padding": 8, "strokeColor": "#d0d0d0", "fillColor": "white", "cornerRadius": 4}
}
}
